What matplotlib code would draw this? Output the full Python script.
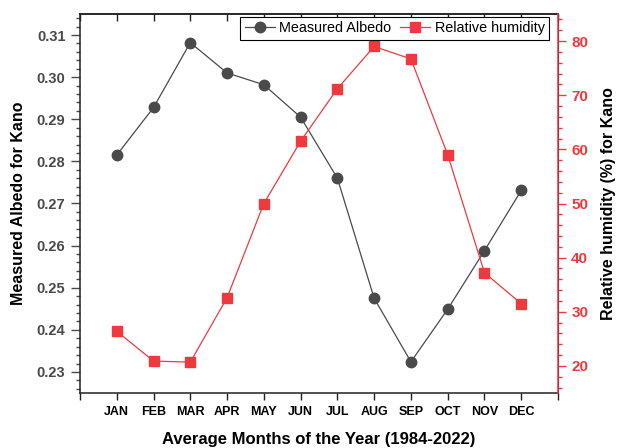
import numpy as np
import matplotlib
matplotlib.use("Agg")
import matplotlib.pyplot as plt
from matplotlib.ticker import MultipleLocator, FormatStrFormatter

plt.rcParams['font.family'] = ['Liberation Sans', 'DejaVu Sans']

months = ['JAN', 'FEB', 'MAR', 'APR', 'MAY', 'JUN',
          'JUL', 'AUG', 'SEP', 'OCT', 'NOV', 'DEC']
albedo = [0.2815, 0.2928, 0.3082, 0.3010, 0.2982, 0.2905,
          0.2760, 0.2475, 0.2324, 0.2449, 0.2588, 0.2731]
humidity = [26.4, 20.9, 20.7, 32.6, 50.0, 61.5,
            71.2, 79.0, 76.7, 59.0, 37.2, 31.5]

gray = '#4a4a4a'
red = '#f0393e'

W, H = 628, 448
fig = plt.figure(figsize=(W / 100, H / 100), dpi=100)
ax = fig.add_axes([80 / W, (H - 393) / H, 478 / W, 379 / H])
ax2 = ax.twinx()

x = np.arange(1, 13)
l1, = ax.plot(x, albedo, '-o', color=gray, lw=0.9, ms=7.5, label='Measured Albedo')
l2, = ax2.plot(x, humidity, '-s', color=red, lw=0.9, ms=6.5, label='Relative humidity')

ax.set_xlim(0, 13)
ax.set_ylim(0.225, 0.315)
ax2.set_ylim(15, 85)

ax.set_xticks(np.arange(0, 14))
ax.set_xticklabels([''] + months + [''], fontsize=9, fontweight='bold')
ax.yaxis.set_major_locator(MultipleLocator(0.01))
ax.yaxis.set_minor_locator(MultipleLocator(0.002))
ax.yaxis.set_major_formatter(FormatStrFormatter('%.2f'))
ax2.yaxis.set_major_locator(MultipleLocator(10))
ax2.yaxis.set_minor_locator(MultipleLocator(2))

ax.tick_params(axis='x', which='major', direction='out', length=5, width=1,
               pad=4, colors='#222222', labelcolor='black')
# inward ticks along the top
top = ax.secondary_xaxis('top')
top.set_xticks(np.arange(0, 14))
top.set_xticklabels([])
top.tick_params(direction='in', length=5, width=1, colors='#222222')
top.spines['top'].set_linewidth(1.1)
top.spines['top'].set_color('#222222')

ax.tick_params(axis='y', which='major', direction='out', length=6.5, width=1,
               pad=4, labelsize=10.5, labelcolor=gray, colors=gray)
ax.tick_params(axis='y', which='minor', direction='out', length=3, width=1, colors=gray)
for lab in ax.get_yticklabels():
    lab.set_fontweight('bold')

ax2.tick_params(axis='y', which='major', direction='out', length=5.5, width=1,
                pad=4, labelsize=11, colors=red)
ax2.tick_params(axis='y', which='minor', direction='out', length=3, width=1, colors=red)
for lab in ax2.get_yticklabels():
    lab.set_fontweight('bold')

for s in ['left', 'bottom', 'top']:
    ax.spines[s].set_color('#222222')
    ax.spines[s].set_linewidth(1.1)
ax2.spines['right'].set_color(red)
ax2.spines['right'].set_linewidth(1.1)
ax2.spines['left'].set_visible(False)
ax2.spines['top'].set_visible(False)
ax2.spines['bottom'].set_visible(False)

ax.set_xlabel('Average Months of the Year (1984-2022)', fontsize=12,
              fontweight='bold', va='top')
ax.xaxis.set_label_coords(0.5, -(432 - 393) / 379)
ax.set_ylabel('Measured Albedo for Kano', fontsize=11.5, fontweight='bold')
ax.yaxis.set_label_coords(-(80 - 26) / 478, 0.5)
ax2.set_ylabel('Relative humidity (%) for Kano', fontsize=11.5, fontweight='bold')
ax2.yaxis.set_label_coords(1 + (601 - 558) / 478, 0.5)

leg = ax2.legend(handles=[l1, l2], loc='upper right', ncol=2, fontsize=10.4,
                 frameon=True, fancybox=False, edgecolor='black', framealpha=1,
                 borderpad=0.3, handlelength=2.1, handletextpad=0.3,
                 columnspacing=0.6, borderaxespad=0,
                 bbox_to_anchor=(549 / W, (H - 17) / H),
                 bbox_transform=fig.transFigure)
leg.get_frame().set_linewidth(0.8)

fig.savefig('out.png', dpi=100)
